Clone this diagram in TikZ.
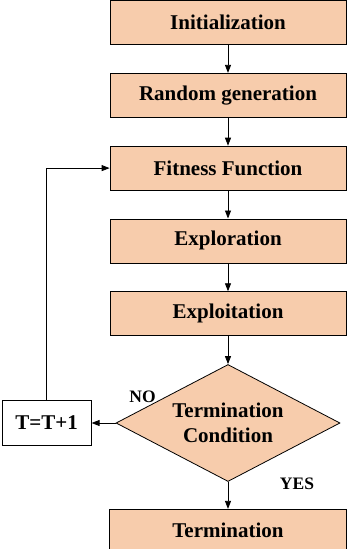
\documentclass[tikz,border=0pt]{standalone}
\usepackage{fontspec}
\setmainfont{Liberation Serif}
\usetikzlibrary{shapes.geometric, arrows.meta, positioning}

\definecolor{peach}{RGB}{247,204,172}

\begin{document}
\begin{tikzpicture}[
    x=1pt, y=1pt,
    node distance=28pt,
    every node/.style={font=\fontsize{21}{25}\selectfont\bfseries},
    box/.style={rectangle, draw, line width=0.8pt, fill=peach, align=center,
                minimum width=236pt, minimum height=44pt, inner sep=2pt},
    cond/.style={diamond, draw, line width=0.8pt, fill=peach, align=center,
                 minimum width=224pt, minimum height=117pt, aspect=1.9, inner sep=0pt},
    plain/.style={rectangle, draw, line width=0.8pt, fill=white, minimum width=89pt, minimum height=45pt},
    arr/.style={-{Triangle[length=8pt, width=6pt]}, line width=0.8pt},
    lbl/.style={font=\fontsize{17.5}{20}\selectfont\bfseries}
]
\useasboundingbox (0,0) rectangle (350,-549);

\node[box] (init) at (228,-22.5) {Initialization};
\node[box, below=of init]  (rand)  {Random generation};
\node[box, below=of rand]  (fit)   {Fitness Function};
\node[box, below=of fit]   (explr) {Exploration};
\node[box, below=of explr] (explt) {Exploitation};
\node[cond, below=of explt] (term) {Termination\\Condition};
\node[box, below=27pt of term, minimum width=237pt, minimum height=43pt] (stop) {Termination};
\node[plain, left=24pt of term] (incr) {T=T+1};

% labels of the decision
\node[lbl] (no)  at ([xshift=27pt, yshift=26pt]term.west) {NO};
\node[lbl] (yes) at ([xshift=69pt, yshift=-2pt]term.south) {YES};

\draw[arr] (init)  -- (rand);
\draw[arr] (rand)  -- (fit);
\draw[arr] (fit)   -- (explr);
\draw[arr] (explr) -- (explt);
\draw[arr] (explt) -- (term);
\draw[arr] (term)  -- (stop);
\draw[arr] (term)  -- (incr);
\draw[arr] (incr.north) |- (fit.west);
\end{tikzpicture}
\end{document}
